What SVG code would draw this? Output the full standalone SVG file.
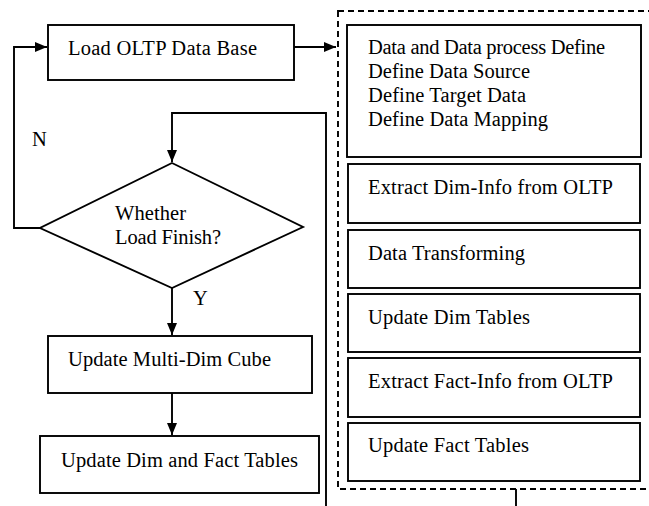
<svg xmlns="http://www.w3.org/2000/svg" width="649" height="506" viewBox="0 0 649 506">
<defs>
<marker id="ah" markerWidth="12" markerHeight="10" refX="12" refY="5" orient="auto" markerUnits="userSpaceOnUse">
<path d="M0,0 L12,5 L0,10 Z" fill="#000"/>
</marker>
<style>
.box{fill:#fff;stroke:#000;stroke-width:1.9}
.ln{fill:none;stroke:#000;stroke-width:1.9}
.dash{fill:none;stroke:#000;stroke-width:1.9;stroke-dasharray:6,4}
text{font-family:"Liberation Serif","Times New Roman",serif;font-size:20.5px;fill:#000}
</style>
</defs>
<rect width="649" height="506" fill="#fff"/>
<g id="connectors">
<path class="ln" d="M40,228 L14,228 L14,47 L47,47" marker-end="url(#ah)"/>
<path class="ln" d="M294,47 L336,47" marker-end="url(#ah)"/>
<path class="ln" d="M326,506 L326,113 L172,113 L172,162" marker-end="url(#ah)"/>
<path class="ln" d="M172,288 L172,335" marker-end="url(#ah)"/>
<path class="ln" d="M172,393 L172,435" marker-end="url(#ah)"/>
<path class="ln" d="M516,489 L516,506"/>
<text x="32" y="146">N</text>
<text x="193" y="305">Y</text>
</g>
<g id="group-dashed">
<rect class="dash" x="338" y="11" width="340" height="478"/>
</g>
<g id="load">
<rect class="box" x="48" y="25" width="246" height="55"/>
<text x="68" y="55" textLength="189">Load OLTP Data Base</text>
</g>
<g id="decision">
<polygon class="box" points="172,163 303,227 172,288 40,228"/>
<text x="115" y="220" textLength="71">Whether</text>
<text x="115" y="244" textLength="106">Load Finish?</text>
</g>
<g id="cube">
<rect class="box" x="48" y="336" width="264" height="57"/>
<text x="68" y="366" textLength="203">Update Multi-Dim Cube</text>
</g>
<g id="dimfact">
<rect class="box" x="40" y="436" width="279" height="57"/>
<text x="61" y="467" textLength="237">Update Dim and Fact Tables</text>
</g>
<g id="define">
<rect class="box" x="347" y="25" width="294" height="132"/>
<text x="368" y="54" textLength="237">Data and Data process Define</text>
<text x="368" y="78" textLength="162">Define Data Source</text>
<text x="368" y="102" textLength="158">Define Target Data</text>
<text x="368" y="126" textLength="180">Define Data Mapping</text>
</g>
<g id="extract-dim">
<rect class="box" x="348" y="164" width="292" height="59"/>
<text x="368" y="194" textLength="245">Extract Dim-Info from OLTP</text>
</g>
<g id="transform">
<rect class="box" x="348" y="230" width="292" height="58"/>
<text x="368" y="260" textLength="157">Data Transforming</text>
</g>
<g id="update-dim">
<rect class="box" x="348" y="294" width="292" height="58"/>
<text x="368" y="324" textLength="162">Update Dim Tables</text>
</g>
<g id="extract-fact">
<rect class="box" x="348" y="358" width="292" height="59"/>
<text x="368" y="388" textLength="245">Extract Fact-Info from OLTP</text>
</g>
<g id="update-fact">
<rect class="box" x="348" y="423" width="292" height="58"/>
<text x="368" y="452" textLength="161">Update Fact Tables</text>
</g>
</svg>
